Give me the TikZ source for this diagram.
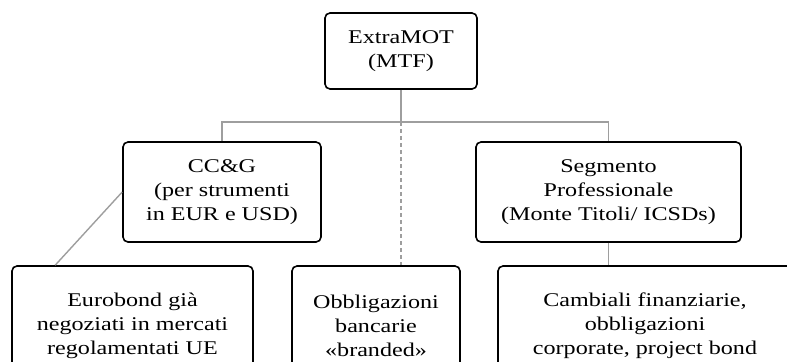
\documentclass[tikz,border=0pt]{standalone}
\usepackage{fontspec}
\setmainfont{Liberation Serif}[FakeStretch=1.24]
\usetikzlibrary{positioning}

% Styles for the boxes and the gray links
\tikzset{
  entity/.style={draw=black, line width=1.6bp, rounded corners=5bp, align=center,
    inner sep=0pt, font=\fontsize{19.5}{24}\selectfont},
  lowtext/.style={execute at begin node={\rule{0pt}{21bp}}},
  link/.style={draw=black!38, line width=1.4bp},
}

\begin{document}
\begin{tikzpicture}[x=1bp,y=-1bp]

    % Page size (bottom boxes run off the page)
    \useasboundingbox (0,0) rectangle (787,361);
    \clip (0,0) rectangle (787,361);

    % Top level
    \node[entity, minimum width=152bp, minimum height=76bp] (mot) at (401,51) {ExtraMOT\\(MTF)};

    % Middle level
    \node[entity, lowtext, minimum width=198bp, minimum height=100bp] (ccg) at (222,192)
        {CC\&G\\(per strumenti\\in EUR e USD)};
    \node[entity, lowtext, minimum width=265bp, minimum height=100bp] (seg) at (608.5,192)
        {Segmento\\Professionale\\(Monte Titoli/ ICSDs)};

    % Bottom level
    \node[entity, minimum width=241bp, minimum height=120bp] (euro) at (132.5,326)
        {Eurobond già\\negoziati in mercati\\regolamentati UE};
    \node[entity, minimum width=168bp, minimum height=120bp] (bank) at (376,326)
        {Obbligazioni\\bancarie\\«branded»};
    \node[entity, minimum width=294bp, minimum height=120bp] (cam) at (645,326)
        {Cambiali finanziarie,\\obbligazioni\\corporate, project bond};

    % Links
    \coordinate (split) at (401,122);
    \draw[link] (mot.south) -- (split);
    \draw[link] (ccg.north) |- (split) -| (seg.north);
    \draw[link, dash pattern=on 4bp off 3bp] (split) -- (split |- bank.north);
    \draw[link] (seg.south) -- (seg.south |- cam.north);
    \draw[link] (ccg.west) -- ([xshift=44bp]euro.north west);

\end{tikzpicture}
\end{document}
